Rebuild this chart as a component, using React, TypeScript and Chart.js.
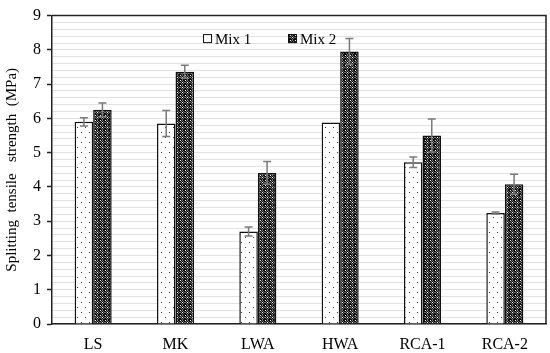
import React, { useEffect, useRef } from 'react';
import { Chart, registerables } from 'chart.js';

Chart.register(...registerables);

const categories = ['LS', 'MK', 'LWA', 'HWA', 'RCA-1', 'RCA-2'];
const seriesLabels = ['Mix 1', 'Mix 2'];
const mix1Values = [5.9, 5.85, 2.7, 5.88, 4.72, 3.24];
const mix1Errors = [0.12, 0.38, 0.13, 0.0, 0.15, 0.03];
const mix2Values = [6.25, 7.36, 4.41, 7.95, 5.5, 4.08];
const mix2Errors = [0.2, 0.19, 0.33, 0.38, 0.48, 0.29];
const yTickLabels = ['0', '1', '2', '3', '4', '5', '6', '7', '8', '9'];
const yTitle = 'Splitting  tensile   strength  (MPa)';

const FONT = '"Liberation Serif", "Times New Roman", serif';

function makeTile(rows: string[], colors: Record<string, string>) {
  const c = document.createElement('canvas');
  c.width = rows[0].length;
  c.height = rows.length;
  const ctx = c.getContext('2d')!;
  rows.forEach((row, y) => {
    for (let x = 0; x < row.length; x++) {
      ctx.fillStyle = colors[row[x]];
      ctx.fillRect(x, y, 1, 1);
    }
  });
  return ctx.createPattern(c, 'repeat')!;
}

function dotPattern() {
  return makeTile(
    [
      '........',
      '........',
      '.D......',
      '........',
      '........',
      '........',
      '........',
      '.....D..',
      '........',
      '........',
    ],
    { '.': '#ffffff', D: '#333333' }
  );
}

function checkPattern() {
  return makeTile(
    ['WKGKK', 'KGKGK', 'GKWKG', 'KGKGK', 'KKGKK'],
    { W: '#ffffff', K: '#0d0d0d', G: '#707070' }
  );
}

const isInt = (v: number) => Math.abs(v - Math.round(v)) < 1e-6;

const errorBarPlugin = {
  id: 'errorBars',
  afterDatasetsDraw(chart: any) {
    const ctx = chart.ctx;
    const y = chart.scales.y;
    const errs = [mix1Errors, mix2Errors];
    chart.data.datasets.forEach((ds: any, i: number) => {
      const meta = chart.getDatasetMeta(i);
      meta.data.forEach((bar: any, j: number) => {
        const v = ds.data[j];
        const e = errs[i][j];
        if (!e) return;
        const top = y.getPixelForValue(v + e);
        const bot = y.getPixelForValue(v - e);
        ctx.save();
        ctx.strokeStyle = '#7a7a7a';
        ctx.lineWidth = 1.5;
        ctx.beginPath();
        ctx.moveTo(bar.x, top);
        ctx.lineTo(bar.x, bot);
        ctx.moveTo(bar.x - 4, top);
        ctx.lineTo(bar.x + 4, top);
        ctx.moveTo(bar.x - 4, bot);
        ctx.lineTo(bar.x + 4, bot);
        ctx.stroke();
        ctx.restore();
      });
    });
  },
};

const framePlugin = {
  id: 'frame',
  afterDraw(chart: any) {
    const { ctx, chartArea } = chart;
    ctx.save();
    ctx.strokeStyle = '#222';
    ctx.lineWidth = 1.5;
    ctx.beginPath();
    ctx.moveTo(chartArea.left, chartArea.top);
    ctx.lineTo(chartArea.right, chartArea.top);
    ctx.lineTo(chartArea.right, chartArea.bottom);
    ctx.stroke();
    ctx.restore();
  },
};

const legendPlugin = {
  id: 'innerLegend',
  afterDraw(chart: any) {
    const { ctx, chartArea } = chart;
    const positions = [chartArea.left + 151, chartArea.left + 236];
    const cy = chartArea.top + 23;
    ctx.save();
    chart.data.datasets.forEach((ds: any, i: number) => {
      const x = positions[i];
      ctx.fillStyle = i === 0 ? '#ffffff' : ds.backgroundColor;
      ctx.fillRect(x, cy - 4.5, 9, 9);
      ctx.strokeStyle = '#111';
      ctx.lineWidth = 1;
      ctx.strokeRect(x + 0.5, cy - 4, 8, 8);
      ctx.fillStyle = '#000';
      ctx.font = `15px ${FONT}`;
      ctx.textBaseline = 'middle';
      ctx.textAlign = 'left';
      ctx.fillText(ds.label, x + 12, cy + 1);
    });
    ctx.restore();
  },
};

export default function App() {
  const ref = useRef<HTMLCanvasElement>(null);

  useEffect(() => {
    const canvas = ref.current!;
    const chart = new Chart(canvas, {
      type: 'bar',
      data: {
        labels: categories,
        datasets: [
          {
            label: seriesLabels[0],
            data: mix1Values,
            backgroundColor: dotPattern() as any,
            borderColor: '#111',
            borderWidth: 1.5,
          },
          {
            label: seriesLabels[1],
            data: mix2Values,
            backgroundColor: checkPattern() as any,
            borderColor: '#111',
            borderWidth: 1.5,
          },
        ],
      },
      options: {
        responsive: false,
        animation: false,
        devicePixelRatio: 1,
        layout: { padding: { top: 10, right: 4, left: 0, bottom: 0 } },
        datasets: { bar: { categoryPercentage: 0.45, barPercentage: 1.0 } },
        plugins: {
          legend: { display: false },
          tooltip: { enabled: false },
        },
        scales: {
          x: {
            grid: { display: false, drawTicks: false },
            border: { display: true, color: '#222', width: 1.5 },
            ticks: {
              color: '#000',
              font: { family: FONT, size: 16 },
              padding: 11,
              maxRotation: 0,
            },
            afterFit: (s: any) => {
              s.height = 29;
            },
          },
          y: {
            min: 0,
            max: 9,
            grid: {
              color: '#e2e2e2',
              lineWidth: 1,
              drawTicks: true,
              tickLength: 5,
              tickColor: (c: any) => (isInt(c.tick.value) ? '#222' : 'rgba(0,0,0,0)'),
              tickWidth: 1.5,
            },
            border: { display: true, color: '#222', width: 1.5 },
            ticks: {
              stepSize: 0.2,
              autoSkip: false,
              color: '#000',
              padding: 6,
              font: { family: FONT, size: 16 },
              callback: (v: any) => (isInt(Number(v)) ? yTickLabels[Math.round(Number(v))] : ''),
            },
            title: {
              display: true,
              text: yTitle,
              color: '#000',
              font: { family: FONT, size: 15 },
              padding: { top: 3, bottom: 0 },
            },
            afterFit: (s: any) => {
              s.width = 52;
            },
          },
        },
      },
      plugins: [errorBarPlugin, framePlugin, legendPlugin],
    });
    return () => chart.destroy();
  }, []);

  return (
    <div style={{ position: 'fixed', left: 0, top: 0, width: 550, height: 353, background: '#fff' }}>
      <canvas ref={ref} width={550} height={353} style={{ display: 'block' }} />
    </div>
  );
}
